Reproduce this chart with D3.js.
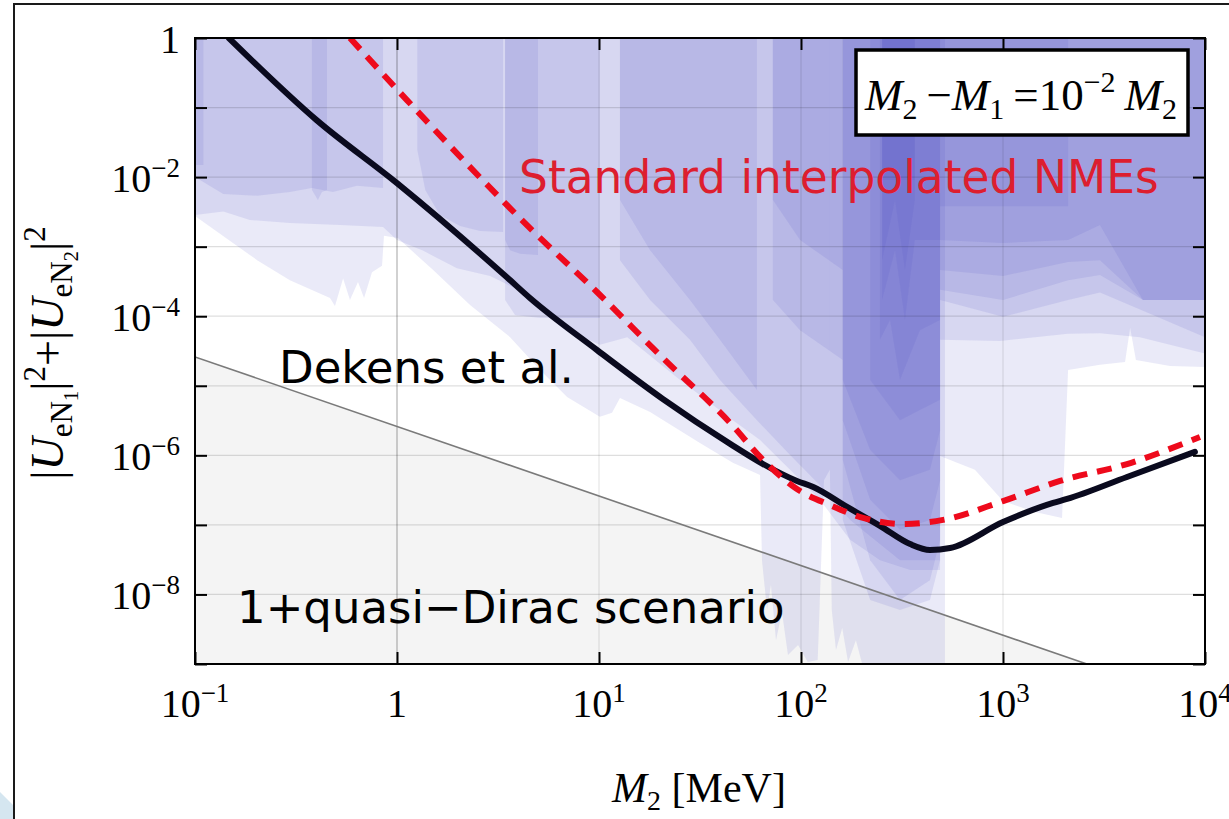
<!DOCTYPE html>
<html>
<head>
<meta charset="utf-8">
<script src="https://cdn.jsdelivr.net/npm/d3@7"></script>
<style>
  body { margin: 0; background: #fff; }
  svg { display: block; }
</style>
</head>
<body>
<div id="chart"></div>
<script>
// canvas + plot box
const width = 1229, height = 819;
const plotL = 195, plotR = 1205, plotT = 38, plotB = 664;

// tick positions and labels
const xTicks = [0.1, 1, 10, 100, 1000, 10000];
const xTickBase = ["10", "1", "10", "10", "10", "10"];
const xTickSup = ["\u22121", "", "1", "2", "3", "4"];
const yTicks = [1, 1e-1, 1e-2, 1e-3, 1e-4, 1e-5, 1e-6, 1e-7, 1e-8, 1e-9];
const yLabelTicks = [1, 1e-2, 1e-4, 1e-6, 1e-8];
const yTickBase = ["1", "10", "10", "10", "10"];
const yTickSup = ["", "\u22122", "\u22124", "\u22126", "\u22128"];

// Dekens et al. limit (M2 in MeV, mixing)
const dekensM = [0.147, 0.40, 1.0, 3.51, 4.55, 9.77, 20.7, 44.6, 64.9, 95.5, 115, 169, 246, 347, 435, 547, 1000, 1770, 2075, 4110, 8910];
const dekensU = [1.0, 6.6e-2, 8.2e-3, 3.6e-4, 1.83e-4, 3.27e-5, 6.46e-6, 1.46e-6, 7.5e-7, 4.28e-7, 3.5e-7, 1.81e-7, 9.7e-8, 5.3e-8, 4.36e-8, 4.65e-8, 1.1e-7, 2.07e-7, 2.36e-7, 4.89e-7, 1.12e-6];

// standard interpolated NMEs limit
const standardM = [0.585, 1.12, 4.71, 9.77, 20.7, 44.6, 64.9, 95.5, 139, 203, 320, 505, 1000, 1915, 4110, 9440];
const standardU = [1.0, 0.128, 1.68e-3, 2.23e-4, 2.51e-5, 2.92e-6, 8.6e-7, 3.28e-7, 1.93e-7, 1.26e-7, 1.03e-7, 1.18e-7, 2.2e-7, 4.28e-7, 7.5e-7, 1.84e-6];

// 1+quasi-Dirac scenario boundary
const diracM = [0.1, 10000];
const diracU = [2.6e-5, 2.6e-10];

// experimental exclusion bounds, each a lower edge [M, U] (excluded above)
const boundsLeft = [
  [[0.1,2.76e-3],[0.203,6.4e-4],[0.295,3.3e-4],[0.466,1.83e-4],[0.493,1.4e-4],[0.541,3.5e-4],[0.585,1.71e-4],[0.641,3.1e-4],[0.687,1.83e-4],[0.752,4.3e-4],[0.843,5.3e-4],[0.862,1.43e-3],[1.01,1.33e-3],[1.51,4.6e-4],[2.3,1.45e-4],[3.63,5.0e-5],[5.11,1.69e-5],[6.95,6.9e-6],[10.1,3.6e-6],[11.6,4.1e-6],[12.7,6.7e-6],[17.9,4.2e-6],[31.6,1.51e-6],[46,7.8e-7],[62.7,5.2e-7]],
  [[0.1,2.85e-3],[0.138,3.2e-3],[0.187,2.42e-3],[0.295,2.19e-3],[0.522,2.05e-3],[0.853,1.92e-3],[1.0,1.25e-3],[1.35,8.7e-4],[1.98,4.9e-4],[2.89,3.8e-4],[4.21,2.2e-4],[5.11,1.27e-4],[6.95,6.3e-5],[10.1,3.9e-5],[13.8,5.0e-5],[25.2,1.21e-5],[46,3.2e-6],[62.7,1.66e-6],[88.3,6.2e-7],[124,2.3e-7],[175,6.1e-8],[246,3.1e-8],[347,2.25e-8],[488,2.25e-8]],
  [[0.1,1.0e-2],[0.138,5.7e-3],[0.203,5.4e-3],[0.295,6.1e-3],[0.379,7.0e-3],[0.482,6.1e-3],[0.634,7.5e-3],[0.853,7.0e-3]],
  [[1.26,2.45e-2],[1.38,6.5e-3],[1.63,2.85e-3],[2.05,1.98e-3],[2.58,1.68e-3],[3.35,1.63e-3]],
  [[3.43,1.71e-4],[3.84,1.04e-4],[5.11,9.4e-5],[10.1,9.4e-5]],
  [[0.379,6.5e-3],[0.406,4.7e-3],[0.425,6.1e-3],[0.45,6.5e-3]],
  [[3.43,1.25e-3],[3.63,8.9e-4],[4.07,7.9e-4],[4.99,7.6e-4]],
  [[0.1,1.49e-2],[0.11,1.49e-2]]
];
const boundsMid = [
  [[62.7,5.2e-7],[64.1,3.1e-8],[67.9,6.0e-9],[71,1.37e-8],[75.2,2.2e-9],[80.5,5.6e-9],[86.2,1.35e-9],[96.7,1.88e-9],[108,1.07e-9],[121,1.14e-9],[130,4.4e-7],[139,6.2e-7]],
  [[12.7,6.4e-4],[17.9,1.71e-4],[28.2,4.6e-5],[39.7,1.21e-5],[60.5,3.2e-6],[88.3,1.01e-6],[124,3.7e-7],[175,1.18e-7],[309,3.1e-8],[488,3.1e-8]],
  [[12.7,4.7e-3],[17.9,8.9e-4],[28.2,1.71e-4],[39.7,4.6e-5],[60.5,8.7e-6]],
  [[72.6,1.71e-4],[98.9,6.3e-5],[161,2.35e-5]],
  [[72.6,4.7e-3],[98.9,1.25e-3],[161,4.6e-4]]
];
const boundsPeak = [
  [[139,6.2e-7],[142,6.0e-9],[149,1.59e-9],[160,3.3e-9],[171,1.07e-9],[187,2.2e-9],[205,8e-10],[516,8e-10]],
  [[161,1.18e-7],[220,8.3e-9],[309,6.0e-9],[435,8.3e-9],[488,3.1e-8]],
  [[161,8.6e-7],[220,3.1e-8],[309,8.3e-9],[435,1.6e-8],[488,6.1e-8]],
  [[161,3.2e-6],[220,2.3e-7],[309,8.5e-8],[435,1.18e-7],[488,4.4e-7]],
  [[161,1.21e-5],[220,1.19e-6],[309,4.4e-7],[435,6.2e-7],[488,2.3e-6]],
  [[220,1.21e-5],[309,3.2e-6],[488,6.3e-6]],
  [[246,4.6e-5],[276,8.8e-5],[309,1.21e-5],[388,6.3e-5],[488,8.8e-5]],
  [[252,1.71e-4],[292,8.9e-4],[327,8.8e-5],[366,1.25e-3],[488,1.25e-3]],
  [[252,6.4e-4],[292,4.7e-3],[327,4.6e-4],[366,4.7e-3]],
  [[252,9.1e-3],[366,9.1e-3]]
];
const boundsRight = [
  [[488,9.8e-7],[726,6.2e-7],[1000,2.2e-7],[1440,1.53e-7],[1960,1.26e-7],[2100,1.69e-5],[3020,2.0e-5],[4020,2.2e-5],[4260,6.8e-5],[4550,2.35e-5],[6710,1.93e-5],[10000,1.86e-5]],
  [[488,4.6e-5],[966,4.4e-5],[2100,5.6e-5],[3020,5.7e-5],[4760,5.0e-5],[10000,2.9e-5]],
  [[488,1.71e-4],[1000,9.8e-5],[2100,1.71e-4],[3020,2.2e-4],[4930,1.2e-4],[10000,5.0e-5]],
  [[488,2.4e-4],[1000,1.71e-4],[2100,3.3e-4],[3020,3.9e-4],[4930,1.71e-4],[10000,1.71e-4]],
  [[488,4.6e-4],[1000,3.8e-4],[2100,6.0e-4],[3020,6.4e-4],[4930,1.71e-4],[10000,1.71e-4]],
  [[488,1.25e-3],[1000,1.13e-3],[2100,1.25e-3],[3020,2.05e-3],[4930,1.71e-4],[10000,1.71e-4]],
  [[488,3.8e-3],[1000,3.8e-3],[2100,3.8e-3]]
];

const serif = "'Liberation Serif', 'Times New Roman', serif";
const sans = "'DejaVu Sans', Verdana, sans-serif";

const svg = d3.select("#chart").append("svg")
  .attr("width", width)
  .attr("height", height);

// slide frame around the figure
svg.append("path")
  .attr("d", "M0,792 Q8,800 14,806 L14,819 L0,819 Z")
  .attr("fill", "#d5e6f0");
svg.append("rect")
  .attr("x", 14).attr("y", 4)
  .attr("width", 1300).attr("height", 900)
  .attr("fill", "#fff")
  .attr("stroke", "#1a1a1a")
  .attr("stroke-width", 2);

const x = d3.scaleLog().domain([0.1, 1e4]).range([plotL, plotR]);
const y = d3.scaleLog().domain([1e-9, 1]).range([plotB, plotT]);

svg.append("defs").append("clipPath").attr("id", "plotClip")
  .append("rect")
  .attr("x", plotL).attr("y", plotT)
  .attr("width", plotR - plotL).attr("height", plotB - plotT);

const plot = svg.append("g").attr("clip-path", "url(#plotClip)");

// grey quasi-Dirac region
const diracPts = diracM.map((m, i) => [m, diracU[i]]);
plot.append("path")
  .datum(diracPts)
  .attr("d", d3.area().x(d => x(d[0])).y0(plotB + 400).y1(d => y(d[1])))
  .attr("fill", "#f4f4f4");

// stacked translucent exclusion regions
const band = d3.area()
  .x(d => x(d[0]))
  .y0(plotT - 5)
  .y1(d => y(d[1]));

plot.selectAll(".bound")
  .data([...boundsLeft, ...boundsMid, ...boundsPeak, ...boundsRight])
  .join("path")
  .attr("class", "bound")
  .attr("d", band)
  .attr("fill", "rgb(80,80,200)")
  .attr("fill-opacity", 0.12);

// grid
plot.selectAll(".vgrid")
  .data([1, 10, 100, 1000])
  .join("line")
  .attr("class", "vgrid")
  .attr("x1", d => x(d)).attr("x2", d => x(d))
  .attr("y1", plotT).attr("y2", plotB)
  .attr("stroke", "#000")
  .attr("stroke-opacity", d => d === 1 ? 0.3 : 0.1)
  .attr("stroke-width", 1.2);

plot.selectAll(".hgrid")
  .data(yTicks.slice(1, -1))
  .join("line")
  .attr("class", "hgrid")
  .attr("x1", plotL).attr("x2", plotR)
  .attr("y1", d => y(d)).attr("y2", d => y(d))
  .attr("stroke", "#000")
  .attr("stroke-opacity", 0.13)
  .attr("stroke-width", 1.2);

// quasi-Dirac boundary line
plot.append("path")
  .datum(diracPts)
  .attr("d", d3.line().x(d => x(d[0])).y(d => y(d[1])))
  .attr("fill", "none")
  .attr("stroke", "#7a7a7a")
  .attr("stroke-width", 1.6);

const curve = d3.line()
  .x(d => x(d[0]))
  .y(d => y(d[1]))
  .curve(d3.curveMonotoneX);

plot.append("path")
  .datum(dekensM.map((m, i) => [m, dekensU[i]]))
  .attr("d", curve)
  .attr("fill", "none")
  .attr("stroke", "#0a0a1e")
  .attr("stroke-width", 6)
  .attr("stroke-linejoin", "round")
  .attr("stroke-linecap", "round");

plot.append("path")
  .datum(standardM.map((m, i) => [m, standardU[i]]))
  .attr("d", curve)
  .attr("fill", "none")
  .attr("stroke", "#ee0a1c")
  .attr("stroke-width", 6)
  .attr("stroke-dasharray", "15 10");

// axes: inward ticks on all four sides
function styleAxis(g) {
  g.select(".domain").remove();
  g.selectAll(".tick line").attr("stroke", "#000").attr("stroke-width", 2);
}
svg.append("g").attr("transform", `translate(0,${plotB})`)
  .call(d3.axisBottom(x).tickValues(xTicks).tickSizeInner(-12).tickSizeOuter(0).tickFormat(""))
  .call(styleAxis);
svg.append("g").attr("transform", `translate(0,${plotT})`)
  .call(d3.axisTop(x).tickValues(xTicks).tickSizeInner(-12).tickSizeOuter(0).tickFormat(""))
  .call(styleAxis);
svg.append("g").attr("transform", `translate(${plotL},0)`)
  .call(d3.axisLeft(y).tickValues(yTicks).tickSizeInner(-12).tickSizeOuter(0).tickFormat(""))
  .call(styleAxis);
svg.append("g").attr("transform", `translate(${plotR},0)`)
  .call(d3.axisRight(y).tickValues(yTicks).tickSizeInner(-12).tickSizeOuter(0).tickFormat(""))
  .call(styleAxis);

svg.append("rect")
  .attr("x", plotL).attr("y", plotT)
  .attr("width", plotR - plotL).attr("height", plotB - plotT)
  .attr("fill", "none")
  .attr("stroke", "#000")
  .attr("stroke-width", 2);

// rich text helper: parts carry their own size and baseline shift
function rich(sel, parts) {
  let prev = 0;
  parts.forEach(p => {
    const shift = p.shift || 0;
    sel.append("tspan")
      .attr("font-size", p.size)
      .attr("font-style", p.italic ? "italic" : null)
      .attr("dy", shift - prev)
      .text(p.t);
    prev = shift;
  });
}

// tick labels
svg.append("g").selectAll("text")
  .data(xTicks)
  .join("text")
  .attr("x", d => x(d))
  .attr("y", 717)
  .attr("text-anchor", "middle")
  .attr("font-family", serif)
  .attr("fill", "#000")
  .each(function (d, i) {
    const parts = [{ t: xTickBase[i], size: 40 }];
    if (xTickSup[i]) parts.push({ t: xTickSup[i], size: 27, shift: -15 });
    rich(d3.select(this), parts);
  });

svg.append("g").selectAll("text")
  .data(yLabelTicks)
  .join("text")
  .attr("x", 180)
  .attr("y", d => y(d) + 15)
  .attr("text-anchor", "end")
  .attr("font-family", serif)
  .attr("fill", "#000")
  .each(function (d, i) {
    const parts = [{ t: yTickBase[i], size: 40 }];
    if (yTickSup[i]) parts.push({ t: yTickSup[i], size: 27, shift: -15 });
    rich(d3.select(this), parts);
  });

// axis titles
const xTitle = svg.append("text")
  .attr("x", 699).attr("y", 802)
  .attr("text-anchor", "middle")
  .attr("font-family", serif)
  .attr("fill", "#000");
rich(xTitle, [
  { t: "M", size: 42, italic: true },
  { t: "2", size: 28, shift: 8 },
  { t: " [MeV]", size: 42 }
]);

const yTitle = svg.append("text")
  .attr("transform", "translate(63,353) rotate(-90)")
  .attr("text-anchor", "middle")
  .attr("font-family", serif)
  .attr("fill", "#000");
rich(yTitle, [
  { t: "|", size: 46 },
  { t: "U", size: 46, italic: true },
  { t: "eN", size: 31, shift: 9 },
  { t: "1", size: 21, shift: 15 },
  { t: "|", size: 46 },
  { t: "2", size: 31, shift: -18 },
  { t: "+", size: 46 },
  { t: "|", size: 46 },
  { t: "U", size: 46, italic: true },
  { t: "eN", size: 31, shift: 9 },
  { t: "2", size: 21, shift: 15 },
  { t: "|", size: 46 },
  { t: "2", size: 31, shift: -18 }
]);

// mass splitting box
svg.append("rect")
  .attr("x", 856).attr("y", 50)
  .attr("width", 332).attr("height", 85)
  .attr("fill", "#fff")
  .attr("stroke", "#000")
  .attr("stroke-width", 3.5);
const boxText = svg.append("text")
  .attr("x", 1021).attr("y", 110)
  .attr("text-anchor", "middle")
  .attr("font-family", serif)
  .attr("fill", "#000");
rich(boxText, [
  { t: "M", size: 45, italic: true },
  { t: "2", size: 30, shift: 9 },
  { t: "\u2009\u2212", size: 45 },
  { t: "M", size: 45, italic: true },
  { t: "1", size: 30, shift: 9 },
  { t: "\u2009=", size: 45 },
  { t: "10", size: 45 },
  { t: "\u22122", size: 30, shift: -18 },
  { t: "\u2009M", size: 45, italic: true },
  { t: "2", size: 30, shift: 9 }
]);

// curve annotations
svg.append("text")
  .attr("x", 519).attr("y", 193)
  .attr("font-family", sans)
  .attr("font-size", 45.5)
  .attr("fill", "#dd1e2f")
  .text("Standard interpolated NMEs");

svg.append("text")
  .attr("x", 279).attr("y", 383)
  .attr("font-family", sans)
  .attr("font-size", 45)
  .attr("fill", "#000")
  .text("Dekens et al.");

svg.append("text")
  .attr("x", 237).attr("y", 623)
  .attr("font-family", sans)
  .attr("font-size", 45)
  .attr("fill", "#000")
  .text("1+quasi\u2212Dirac scenario");
</script>
</body>
</html>
